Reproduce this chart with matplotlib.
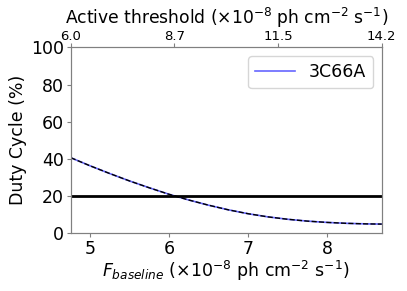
import matplotlib
matplotlib.use("Agg")
import matplotlib.pyplot as plt
import numpy as np

# Duty cycle vs baseline flux
f_baseline = [4.76, 5.0, 5.25, 5.5, 5.75, 6.0, 6.25, 6.5, 6.75, 7.0,
              7.25, 7.5, 7.75, 8.0, 8.25, 8.5, 8.69]
duty_cycle = [40.5, 36.2, 32.0, 28.0, 24.3, 20.8, 17.7, 14.9, 12.4, 10.3,
              8.6, 7.3, 6.3, 5.6, 5.1, 4.8, 4.7]
threshold_labels = ["6.0", "8.7", "11.5", "14.2"]
source = "3C66A"
dc_limit = 20

fig = plt.figure(figsize=(4.07, 2.91), dpi=100)
ax = fig.add_axes([0.174, 0.200, 0.764, 0.637])

ax.plot(f_baseline, duty_cycle, color="blue", alpha=0.6, lw=1.2, label=source)
ax.plot(f_baseline, duty_cycle, color="black", ls="--", lw=1.0)
ax.axhline(dc_limit, color="black", lw=2)

ax.set_xlim(f_baseline[0], f_baseline[-1])
ax.set_ylim(0, 100)
ax.set_xticks([5, 6, 7, 8])
ax.set_yticks([0, 20, 40, 60, 80, 100])
ax.tick_params(labelsize=12.5, color="grey", length=3, pad=2)
ax.set_xlabel(r"$F_{baseline}$ ($\times10^{-8}$ ph cm$^{-2}$ s$^{-1}$)", fontsize=12.5, labelpad=1)
ax.set_ylabel("Duty Cycle (%)", fontsize=12.5, labelpad=3)
for s in ax.spines.values():
    s.set_color("grey")

ax.legend(loc="upper right", fontsize=12.5, handlelength=2.3)

# top axis: active threshold
ax2 = ax.twiny()
ax2.set_xlim(ax.get_xlim())
ax2.set_xticks(np.linspace(f_baseline[0], f_baseline[-1], len(threshold_labels)))
ax2.set_xticklabels(threshold_labels)
ax2.tick_params(labelsize=9.5, pad=0.5, length=3, color="grey")
ax2.set_xlabel(r"Active threshold ($\times10^{-8}$ ph cm$^{-2}$ s$^{-1}$)", fontsize=12.3, labelpad=4)
for s in ax2.spines.values():
    s.set_color("grey")

fig.savefig("out.png", dpi=100)
